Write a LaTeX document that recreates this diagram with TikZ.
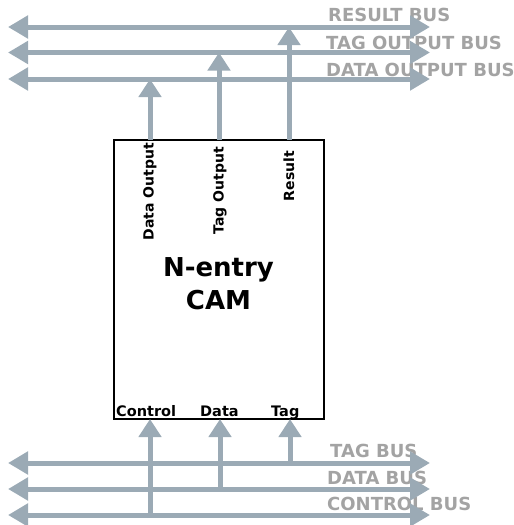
\documentclass[tikz,border=0pt]{standalone}
\usepackage{fontspec}
\setmainfont{DejaVu Sans}
\usetikzlibrary{arrows.meta}
\definecolor{busc}{RGB}{155,170,181}
\definecolor{labelc}{RGB}{163,163,163}
\tikzset{
  bus/.style={draw=busc, line width=5pt, {Triangle[length=20pt,width=22pt]}-{Triangle[length=20pt,width=22pt]}},
  feed/.style={draw=busc, line width=5pt, -{Triangle[length=18pt,width=22pt]}},
  buslabel/.style={text=labelc, font=\bfseries\fontsize{18}{20}\selectfont, inner sep=0pt, anchor=base west},
  portv/.style={font=\bfseries\fontsize{14}{16}\selectfont, inner sep=0pt, rotate=90, anchor=east},
  porth/.style={font=\bfseries\fontsize{14.5}{16}\selectfont, inner sep=0pt, anchor=base west},
  cambox/.style={draw=black, line width=2pt, minimum width=210pt, minimum height=279pt, inner sep=0pt}
}
\begin{document}
\begin{tikzpicture}[x=1pt,y=-1pt]
\useasboundingbox (0,0) rectangle (514,525);
% box
\node[cambox] (cam) at (219,279.5) {};
\node[font=\bfseries\fontsize{26}{33}\selectfont, align=center, inner sep=0pt] (title) at (218.5,284) {N-entry\\CAM};
% bus labels
\node[buslabel] (lres) at (328,21.5) {RESULT BUS};
\node[buslabel] (ltago) at (326,49.5) {TAG OUTPUT BUS};
\node[buslabel] (ldatao) at (326,76) {DATA OUTPUT BUS};
\node[buslabel] (ltag) at (330,457) {TAG BUS};
\node[buslabel] (ldata) at (327,484) {DATA BUS};
\node[buslabel] (lctl) at (327,510) {CONTROL BUS};
% port labels
\node[portv] (pdo) at (150,143) {Data Output};
\node[portv] (pto) at (220,147) {Tag Output};
\node[portv] (pres) at (289,151) {Result};
\node[porth] (pctl) at (116,416) {Control};
\node[porth] (pdat) at (200,416) {Data};
\node[porth] (ptag) at (271,416) {Tag};
% bus coordinates
\coordinate (r1L) at (8,27);   \coordinate (r1R) at (430,27);
\coordinate (r2L) at (8,52.5); \coordinate (r2R) at (430,52.5);
\coordinate (r3L) at (8,79);   \coordinate (r3R) at (430,79);
\coordinate (b1L) at (8,463);  \coordinate (b1R) at (430,463);
\coordinate (b2L) at (8,489);  \coordinate (b2R) at (430,489);
\coordinate (b3L) at (8,515);  \coordinate (b3R) at (430,515);
% feed coordinates
\coordinate (doTop) at (150,140); \coordinate (doEnd) at (150,79);
\coordinate (toTop) at (219,140); \coordinate (toEnd) at (219,52.5);
\coordinate (reTop) at (289,140); \coordinate (reEnd) at (289,27);
\coordinate (ctlS) at (150,515); \coordinate (ctlE) at (150,419);
\coordinate (datS) at (220,489); \coordinate (datE) at (220,419);
\coordinate (tagS) at (290,463); \coordinate (tagE) at (290,419);
% buses
\draw[bus] (r1L) -- (r1R);
\draw[bus] (r2L) -- (r2R);
\draw[bus] (r3L) -- (r3R);
\draw[bus] (b1L) -- (b1R);
\draw[bus] (b2L) -- (b2R);
\draw[bus] (b3L) -- (b3R);
% feeds
\draw[feed] (doTop) -- (doEnd);
\draw[feed] (toTop) -- (toEnd);
\draw[feed] (reTop) -- (reEnd);
\draw[feed] (ctlS) -- (ctlE);
\draw[feed] (datS) -- (datE);
\draw[feed] (tagS) -- (tagE);
\end{tikzpicture}
\end{document}
